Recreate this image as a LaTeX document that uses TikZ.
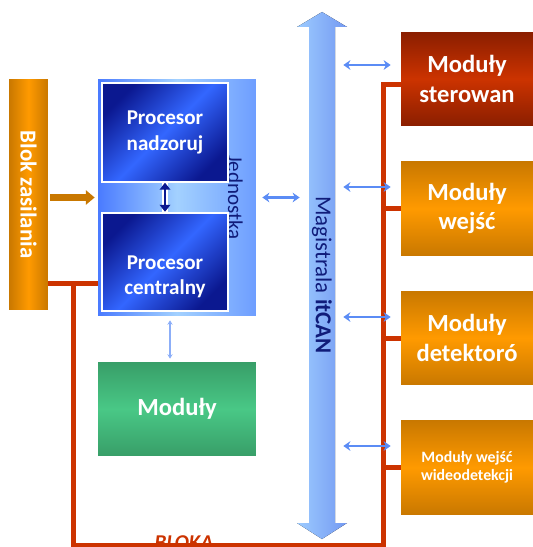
\documentclass[tikz,border=0pt]{standalone}
\usepackage{fontspec}
\setmainfont{Carlito}
\usepackage{xcolor}
\usepackage{tikz}
\usetikzlibrary{arrows.meta}

\definecolor{orangemid}{HTML}{FF9A00}
\definecolor{orangeedge}{HTML}{C97800}
\definecolor{redmid}{HTML}{CC3300}
\definecolor{rededge}{HTML}{8A1E00}
\definecolor{wirered}{HTML}{CC3300}
\definecolor{navy}{HTML}{0B1890}
\definecolor{procblue}{HTML}{3366FF}
\definecolor{unitlight}{HTML}{A3D1FF}
\definecolor{unitedge}{HTML}{4A7BFF}
\definecolor{greenmid}{HTML}{49C886}
\definecolor{greenedge}{HTML}{389E68}
\definecolor{buslight}{HTML}{9CCBFF}
\definecolor{busedge}{HTML}{7499F2}
\definecolor{linkblue}{HTML}{5B8CF5}
\definecolor{labelnavy}{HTML}{101C7A}

\tikzset{
  box/.style={inner sep=0pt, align=center, text=white},
  modbox/.style={box, minimum width=2.64cm, minimum height=1.88cm,
    top color=orangeedge, bottom color=orangeedge, middle color=orangemid,
    font=\fontsize{14}{17}\selectfont\bfseries},
  ctrlbox/.style={modbox, top color=rededge, bottom color=rededge, middle color=redmid},
  greenbox/.style={box, minimum width=3.16cm, minimum height=1.88cm,
    top color=greenedge, bottom color=greenedge, middle color=greenmid,
    font=\fontsize{14}{17}\selectfont\bfseries},
  procbox/.style={box, draw=white, line width=1.1pt, minimum width=2.52cm, minimum height=1.97cm,
    top color=navy, bottom color=navy, middle color=procblue, shading angle=45,
    font=\fontsize{12}{14.5}\selectfont\bfseries},
  proctext/.style={box, font=\fontsize{12}{14.5}\selectfont\bfseries},
  unit/.style={minimum width=3.16cm, minimum height=4.74cm, inner sep=0pt,
    left color=unitedge, right color=unitedge!60!unitlight, middle color=unitlight},
  unittext/.style={rotate=-90, inner sep=0pt, text=labelnavy, font=\fontsize{12}{14}\selectfont},
  supply/.style={minimum width=0.78cm, minimum height=4.62cm, inner sep=0pt,
    left color=orangeedge, right color=orangeedge, middle color=orangemid},
  supplytext/.style={rotate=-90, inner sep=0pt, text=white, font=\fontsize{13}{15}\selectfont\bfseries},
  busfill/.style={left color=buslight, right color=busedge},
  busshaft/.style={minimum width=0.52cm, minimum height=9.92cm, inner sep=0pt},
  bustext/.style={rotate=-90, inner sep=0pt, text=labelnavy, font=\fontsize{13}{15}\selectfont},
  link/.style={linkblue, line width=1.6pt, {Stealth[length=4pt,width=5.5pt]}-{Stealth[length=4pt,width=5.5pt]}},
  thinlink/.style={linkblue!70, line width=0.6pt, {Stealth[length=2.5pt,width=3pt]}-{Stealth[length=2.5pt,width=3pt]}},
  proclink/.style={navy, line width=1.6pt, preaction={draw=white, line width=3pt, -},
    {Triangle[length=4pt,width=6pt]}-{Triangle[length=4pt,width=6pt]}},
  power/.style={orangeedge, line width=4pt, -{Triangle[length=5pt,width=8pt]}},
  wire/.style={wirered, line width=0.1cm, line join=miter},
  blocktext/.style={inner sep=0pt, text=wirered, font=\fontsize{12}{14}\selectfont\bfseries\itshape}
}

\begin{document}
\begin{tikzpicture}[x=0.02cm, y=-0.02cm]
    \useasboundingbox (0,0) rectangle (532,547);

    % Power supply and control unit
    \node[supply] (blok) at (28.5,194.5) {};
    \node[supplytext] (bloktext) at (blok.center) {Blok zasilania};

    \node[unit] (jed) at (177,197.5) {};
    \node[unittext] (jedtext) at ([xshift=-0.42cm]jed.east) {Jednostka};
    \node[procbox] (nad) at (165,132.5) {Procesor\\nadzoruj};
    \node[procbox] (cen) at (165,262) {};
    \node[proctext] (centext) at ([yshift=-0.3cm]cen.center) {Procesor\\centralny};

    \node[greenbox] (mod) at (177,409) {Moduły};

    % itCAN bus
    \fill[busfill] (309,27) -- (297,27) -- (322,12) -- (347,27) -- (335,27)
        -- (335,523) -- (347,523) -- (322,539) -- (297,523) -- (309,523) -- cycle;
    \node[busshaft] (bus) at (322,275) {};
    \node[bustext] (bustext) at (bus.center) {Magistrala \textbf{itCAN}};

    % Modules on the bus
    \node[ctrlbox] (ster) at (467,79) {Moduły\\sterowan};
    \node[modbox] (wej) at (467,208.5) {Moduły\\wejść};
    \node[modbox] (det) at (467,338) {Moduły\\detektoró};
    \node[modbox, font=\fontsize{9}{10.5}\selectfont\bfseries] (wid) at (467,467.5) {Moduły wejść\\wideodetekcji};

    % Blocking line
    \node[blocktext, anchor=north] (blokada) at (184,535) {BLOKA};
    \coordinate (tap) at (73,283);
    \coordinate (rail) at (383,545);
    \draw[wire] (tap -| blok.east) -- (tap -| jed.west);
    \draw[wire] (tap) |- (rail) |- ([yshift=-0.12cm]ster.west);
    \foreach \m in {wej,det,wid}
        \draw[wire] (\m.west) -- (\m.west -| rail);

    % Data links
    \draw[power, shorten <=0.04cm, shorten >=0.06cm] (jed.west -| blok.east) -- (jed.west);
    \draw[proclink] (nad.south) -- (cen.north);
    \draw[thinlink, shorten <=0.08cm, shorten >=0.06cm] ([xshift=-0.14cm]jed.south) -- ([xshift=-0.14cm]mod.north);
    \draw[link, shorten <=0.12cm, shorten >=0.18cm] (jed.east) -- (jed.east -| bus.west);
    \foreach \m/\s in {ster/0.28,wej/0.43,det/0.42,wid/0.43} {
        \coordinate (\m-in) at ([yshift=\s cm]\m.west);
        \draw[link, shorten <=0.16cm, shorten >=0.2cm] (bus.east |- \m-in) -- (\m-in);
    }
\end{tikzpicture}
\end{document}
